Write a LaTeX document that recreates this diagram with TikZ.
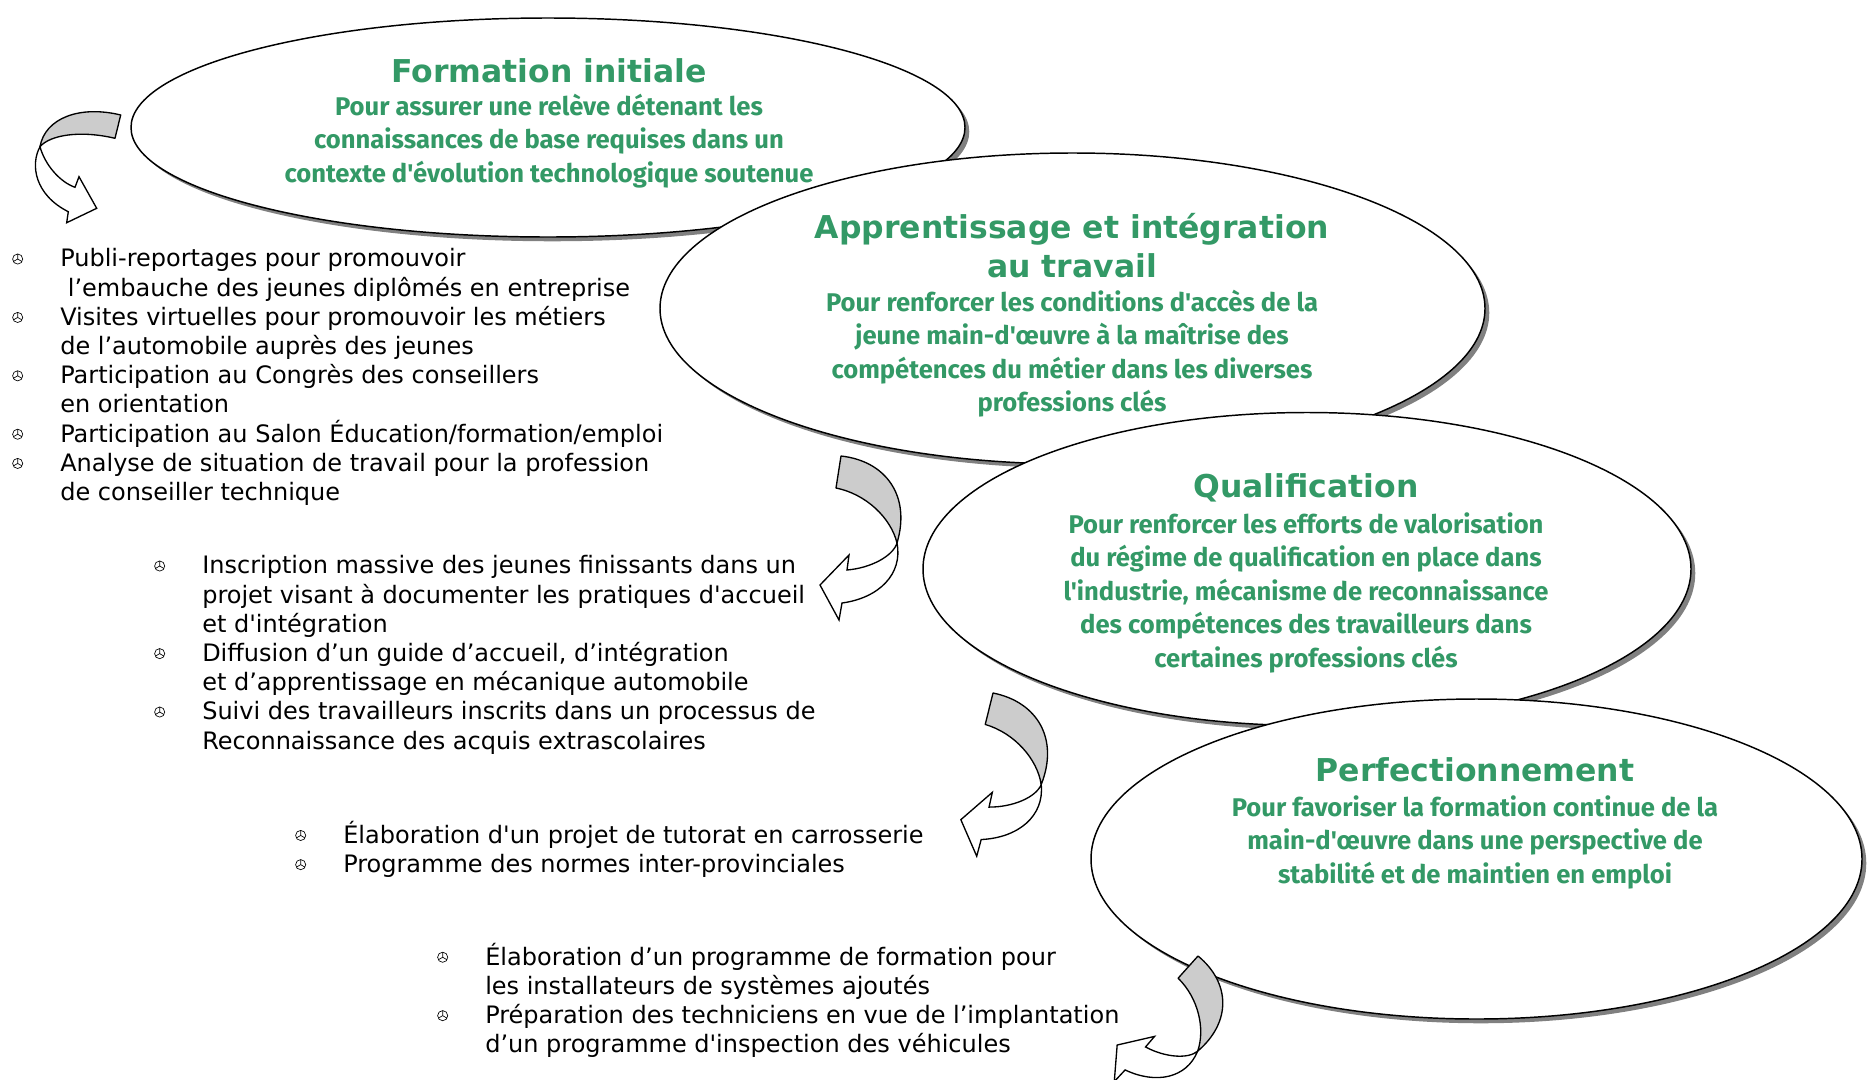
\documentclass[tikz,border=0pt]{standalone}
\usepackage{fontspec}
\setmainfont{DejaVu Sans}[Ligatures=TeXOff]
\newfontfamily\comique{Fira Sans}[Ligatures=TeXOff]
\usepackage{xcolor}
\usepackage{tikz}
\usetikzlibrary{shapes.geometric,shadows}
\definecolor{vert}{HTML}{339966}
\definecolor{gris}{HTML}{CCCCCC}
\definecolor{ombre}{HTML}{808080}
\newcommand\puce{\makebox[36pt][l]{\tikz[baseline=-0.6ex,x=1pt,y=1pt,line width=0.5pt]{%
  \draw (0,0) circle (3.8);
  \draw (0,0)--(90:3.8) (0,0)--(210:3.8) (0,0)--(330:3.8);}}}
\newcommand\retrait{\hspace*{36pt}}
\tikzset{
  bulle/.style={ellipse, draw=black, line width=1.1pt, fill=white, inner sep=0pt,
    drop shadow={shadow xshift=3.2pt, shadow yshift=-3.2pt, fill=ombre, opacity=1}},
  titre/.style={text=vert, align=center, inner sep=0pt, font=\fontsize{23.6}{29.5}\selectfont\bfseries},
  but/.style={text=vert, align=center, inner sep=0pt, font=\comique\bfseries\fontsize{19.2}{25.1}\selectfont},
  liste/.style={anchor=north west, align=left, inner sep=0pt, font=\fontsize{18}{21.9}\selectfont},
  ruban/.style={draw=black, fill=gris, line width=1pt, line join=round},
  pointe/.style={draw=black, fill=white, line width=1pt, line join=miter},
  fleche/.pic={
    \draw[ruban] (0,0) .. controls (45,5) and (70,40) .. (56,87)
      .. controls (50,62) and (25,38) .. (-5,32) -- cycle;
    \draw[pointe] (56,87) .. controls (52,100) and (30,112) .. (6,114)
      -- (8,99) -- (-21,129) -- (-2,164) -- (1,147)
      .. controls (38,142) and (62,118) .. cycle;
  },
}

\begin{document}
\begin{tikzpicture}[x=0.75pt, y=-0.75pt]
  \clip (0,0) rectangle (1874,1079);

  % Formation initiale
  \node[bulle, minimum width=625.5pt, minimum height=164.25pt] (formation) at (548,127.5) {};
  \node[titre] (formation-t) at (549,70.5) {Formation initiale};
  \node[but] (formation-b) at (549,141) {Pour assurer une relève détenant les\\
    connaissances de base requises dans un\\
    contexte d'évolution technologique soutenue};

  % Apprentissage
  \node[bulle, minimum width=618.75pt, minimum height=233.25pt] (apprent) at (1072.5,308.5) {};
  \node[titre] (apprent-t) at (1072,245.6) {Apprentissage et intégration\\au travail};
  \node[but] (apprent-b) at (1072,353.7) {Pour renforcer les conditions d'accès de la\\
    jeune main-d'œuvre à la maîtrise des\\
    compétences du métier dans les diverses\\
    professions clés};

  % Qualification
  \node[bulle, minimum width=576pt, minimum height=234.75pt] (qualif) at (1307,569) {};
  \node[titre] (qualif-t) at (1306,487.6) {Qualification};
  \node[but] (qualif-b) at (1306,592.7) {Pour renforcer les efforts de valorisation\\
    du régime de qualification en place dans\\
    l'industrie, mécanisme de reconnaissance\\
    des compétences des travailleurs dans\\
    certaines\ professions clés};

  % Perfectionnement
  \node[bulle, minimum width=578.25pt, minimum height=240pt] (perfect) at (1476.5,859) {};
  \node[titre] (perfect-t) at (1475,769.6) {Perfectionnement};
  \node[but] (perfect-b) at (1475,842.4) {Pour favoriser la formation continue de la\\
    main-d'œuvre dans une perspective de\\
    stabilité et de maintien en emploi};

  % fleches
  \draw[ruban] (120.7,115) .. controls (80,105) and (45,118) .. (40,146.7)
    .. controls (50,135) and (80,130) .. (115,138.3) -- cycle;
  \draw[pointe] (40,146.7) .. controls (45,165) and (60,182) .. (75,187.3)
    -- (79,176.7) -- (96.7,208.3) -- (66.7,222.7) -- (68.3,211.7)
    .. controls (35,195) and (30,165) .. cycle;
  \pic at (841,456) {fleche};
  \pic[rotate=-5] at (993,693) {fleche};
  \pic[rotate=-33, scale=.92] at (1198,956) {fleche};

  % listes
  \node[liste] (liste1) at (12,248.4) {\puce Publi-reportages pour promouvoir\\
    \retrait\ l’embauche des jeunes diplômés en entreprise\\
    \puce Visites virtuelles pour promouvoir les métiers\\
    \retrait de l’automobile auprès des jeunes\\
    \puce Participation au Congrès des conseillers\\
    \retrait en orientation\\
    \puce Participation au Salon Éducation/formation/emploi\\
    \puce Analyse de situation de travail pour la profession\\
    \retrait de conseiller technique};
  \node[liste] (liste2) at (154,555.4) {\puce Inscription massive des jeunes finissants dans un\\
    \retrait projet visant à documenter les pratiques d'accueil\\
    \retrait et d'intégration\\
    \puce Diffusion d’un guide d’accueil, d’intégration\\
    \retrait et d’apprentissage en mécanique automobile\\
    \puce Suivi des travailleurs inscrits dans un processus de\\
    \retrait Reconnaissance des acquis extrascolaires};
  \node[liste] (liste3) at (295,820.8) {\puce Élaboration d'un projet de tutorat en carrosserie\\
    \puce Programme des normes inter-provinciales};
  \node[liste] (liste4) at (437,942.6) {\puce Élaboration d’un programme de formation pour\\
    \retrait les installateurs de systèmes ajoutés\\
    \puce Préparation des techniciens en vue de l’implantation\\
    \retrait d’un programme d'inspection des véhicules};
\end{tikzpicture}
\end{document}
